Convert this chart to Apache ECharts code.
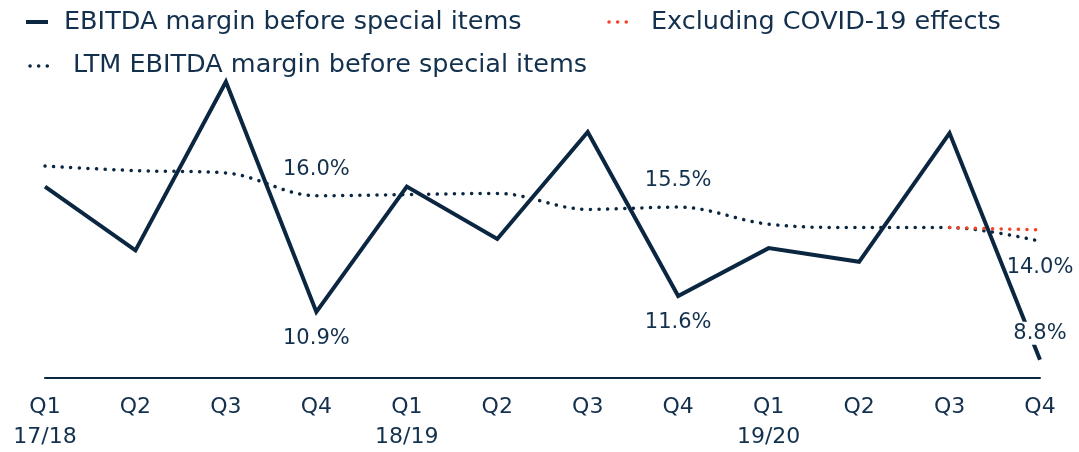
<!DOCTYPE html>
<html>
<head>
<meta charset="utf-8">
<script src="https://cdn.jsdelivr.net/npm/echarts@6/dist/echarts.min.js"></script>
<style>
  html, body { margin: 0; padding: 0; background: #ffffff; }
  #chart { width: 1079px; height: 452px; }
</style>
</head>
<body>
<div id="chart"></div>
<script>
// Quarter labels (fiscal years shown under every Q1)
const categories = ['Q1\n17/18', 'Q2', 'Q3', 'Q4', 'Q1\n18/19', 'Q2', 'Q3', 'Q4', 'Q1\n19/20', 'Q2', 'Q3', 'Q4'];

// Quarterly EBITDA margin before special items, %
const ebitdaMargin = [16.4, 13.6, 21.0, 10.9, 16.4, 14.1, 18.8, 11.6, 13.7, 13.1, 18.75, 8.8];

// Last-twelve-months EBITDA margin before special items, %
const ltmMargin = [17.3, 17.1, 17.0, 16.0, 16.05, 16.1, 15.4, 15.5, 14.75, 14.6, 14.6, 14.0];

// LTM margin excluding COVID-19 effects, %
const exCovidMargin = [null, null, null, null, null, null, null, null, null, null, 14.6, 14.5];

// Values that carry a printed label: index -> side of the point
const labelledMargin = { 3: 'bottom', 7: 'bottom', 11: 'top' };
const labelledLtm = { 3: 'top', 7: 'top', 11: 'bottom' };

const NAVY = '#0b2640';
const TEXT = '#13304d';
const RED = '#f0452a';
const FONT = '"DejaVu Sans", "Noto Sans", sans-serif';

function fmt(v) { return v.toFixed(1) + '%'; }

function withLabels(values, positions) {
  return values.map((v, i) => {
    if (!(i in positions)) return v;
    return {
      value: v,
      label: {
        show: true,
        position: positions[i],
        distance: 15,
        formatter: p => fmt(p.value),
        color: TEXT,
        fontFamily: FONT,
        fontSize: 21,
        backgroundColor: '#ffffff',
        padding: [1, 2]
      }
    };
  });
}

const dotted = (color) => ({ color: color, width: 3.5, type: [0.1, 8.5], cap: 'round' });

const chart = echarts.init(document.getElementById('chart'), null, { renderer: 'canvas' });

const legendFont = '25.5px ' + FONT;

chart.setOption({
  animation: false,
  backgroundColor: '#ffffff',
  textStyle: { fontFamily: FONT },
  grid: { left: 45, right: 39, top: 59, bottom: 71, containLabel: false },
  xAxis: {
    type: 'category',
    data: categories,
    boundaryGap: false,
    axisLine: { lineStyle: { color: NAVY, width: 2 } },
    axisTick: { show: false },
    splitLine: { show: false },
    axisLabel: {
      interval: 0,
      color: TEXT,
      fontFamily: FONT,
      fontSize: 22,
      lineHeight: 30,
      margin: 14
    }
  },
  yAxis: {
    type: 'value',
    min: 8,
    max: 22,
    show: false,
    splitLine: { show: false }
  },
  graphic: [
    // legend row 1
    { type: 'line', shape: { x1: 26, y1: 22, x2: 48, y2: 22 }, style: { stroke: NAVY, lineWidth: 4 } },
    { type: 'text', x: 64, y: 22, style: { text: 'EBITDA margin before special items', fill: TEXT, font: legendFont, verticalAlign: 'middle' } },
    { type: 'line', shape: { x1: 609, y1: 22, x2: 627, y2: 22 }, style: { stroke: RED, lineWidth: 3.5, lineDash: [0.1, 8.5], lineCap: 'round' } },
    { type: 'text', x: 651, y: 22, style: { text: 'Excluding COVID-19 effects', fill: TEXT, font: legendFont, verticalAlign: 'middle' } },
    // legend row 2
    { type: 'line', shape: { x1: 30, y1: 66, x2: 48, y2: 66 }, style: { stroke: NAVY, lineWidth: 3.5, lineDash: [0.1, 8.5], lineCap: 'round' } },
    { type: 'text', x: 73, y: 65, style: { text: 'LTM EBITDA margin before special items', fill: TEXT, font: legendFont, verticalAlign: 'middle' } }
  ],
  series: [
    {
      name: 'LTM EBITDA margin before special items',
      type: 'line',
      data: withLabels(ltmMargin, labelledLtm),
      smooth: 0.35,
      showSymbol: true,
      symbol: 'circle',
      symbolSize: 0.1,
      itemStyle: { color: NAVY },
      lineStyle: dotted(NAVY),
      z: 2
    },
    {
      name: 'Excluding COVID-19 effects',
      type: 'line',
      data: exCovidMargin,
      showSymbol: false,
      symbol: 'none',
      lineStyle: dotted(RED),
      z: 3
    },
    {
      name: 'EBITDA margin before special items',
      type: 'line',
      data: withLabels(ebitdaMargin, labelledMargin),
      showSymbol: true,
      symbol: 'circle',
      symbolSize: 0.1,
      itemStyle: { color: NAVY },
      lineStyle: { color: NAVY, width: 4, join: 'miter' },
      z: 4
    }
  ]
});
</script>
</body>
</html>
